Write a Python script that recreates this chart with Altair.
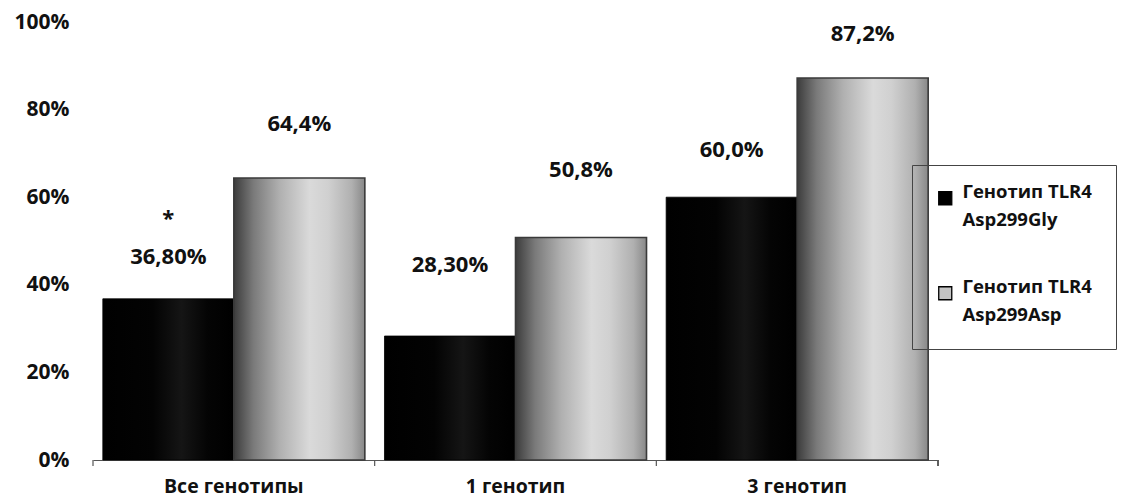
import altair as alt
import pandas as pd

FONT = "Open Sans"
INK = "#111111"

categories = ["Все генотипы", "1 генотип", "3 генотип"]
series = ["\u00a0Генотип TLR4|Asp299Gly", "Генотип TLR4|Asp299Asp"]
gly_values = [36.8, 28.3, 60.0]
asp_values = [64.4, 50.8, 87.2]
gly_labels = ["36,80%", "28,30%", "60,0%"]
asp_labels = ["64,4%", "50,8%", "87,2%"]
gly_label_y = [46.3, 44.5, 70.8]
asp_label_y = [76.7, 66.2, 97.3]
star_label = "*"
star_y = 55.0
y_ticks = [0, 20, 40, 60, 80, 100]

rows = []
for i, c in enumerate(categories):
    rows.append({"category": c, "series": series[0], "value": gly_values[i],
                 "label": gly_labels[i], "label_y": gly_label_y[i], "zero": 0})
    rows.append({"category": c, "series": series[1], "value": asp_values[i],
                 "label": asp_labels[i], "label_y": asp_label_y[i], "zero": 0})
df = pd.DataFrame(rows)
star_df = pd.DataFrame([{"category": categories[0], "series": series[0],
                         "label": star_label, "label_y": star_y}])
cat_df = pd.DataFrame({"category": categories})

W, H = 845, 438

black_grad = {
    "gradient": "linear", "x1": 0, "x2": 1, "y1": 0, "y2": 0,
    "stops": [
        {"offset": 0, "color": "#000000"},
        {"offset": 0.38, "color": "#030303"},
        {"offset": 0.6, "color": "#151515"},
        {"offset": 0.8, "color": "#040404"},
        {"offset": 1, "color": "#000000"},
    ],
}
gray_grad = {
    "gradient": "linear", "x1": 0, "x2": 1, "y1": 0, "y2": 0,
    "stops": [
        {"offset": 0, "color": "#3c3c3c"},
        {"offset": 0.15, "color": "#7a7a7a"},
        {"offset": 0.35, "color": "#b0b0b0"},
        {"offset": 0.58, "color": "#dadada"},
        {"offset": 0.72, "color": "#d0d0d0"},
        {"offset": 0.9, "color": "#b0b0b0"},
        {"offset": 1, "color": "#888888"},
    ],
}

x_axis = alt.Axis(title=None, labelAngle=0, ticks=False, domainColor="#555555",
                  domainWidth=1.2, labelPadding=17, labelFont=FONT,
                  labelFontSize=19.5, labelFontWeight="bold", labelColor=INK)
x_enc = alt.X("category:N", sort=categories,
              scale=alt.Scale(domain=categories, paddingInner=0, paddingOuter=0),
              axis=x_axis)
xo_enc = alt.XOffset("series:N", sort=series,
                     scale=alt.Scale(domain=series, paddingInner=0, paddingOuter=0.075))
y_scale = alt.Scale(domain=[0, 100])
y_axis = alt.Axis(title=None, values=y_ticks, labelExpr="datum.value + '%'",
                  domain=False, ticks=False, grid=False, labelPadding=24,
                  labelFont=FONT, labelFontSize=21, labelFontWeight="bold",
                  labelColor=INK)

base = alt.Chart(df)

bars_gly = base.transform_filter(alt.datum.series == series[0]).mark_bar(
    color=black_grad, stroke="#000000", strokeWidth=0.8
).encode(x=x_enc, xOffset=xo_enc, y=alt.Y("value:Q", scale=y_scale, axis=y_axis))

bars_asp = base.transform_filter(alt.datum.series == series[1]).mark_bar(
    color=gray_grad, stroke="#3a3a3a", strokeWidth=1.6
).encode(x=x_enc, xOffset=xo_enc, y=alt.Y("value:Q", scale=y_scale, axis=y_axis))

legend_layer = base.mark_bar().encode(
    x=x_enc, xOffset=xo_enc,
    y=alt.Y("zero:Q", scale=y_scale, axis=y_axis),
    color=alt.Color("series:N", sort=series,
                    scale=alt.Scale(domain=series, range=["#000000", "#c4c4c4"]),
                    legend=alt.Legend(
                        title=None, orient="none", legendX=819, legendY=143,
                        padding=24, strokeColor="#444444",
                        labelExpr="split(datum.label, '|')",
                        labelFont=FONT, labelFontSize=18.5, labelFontWeight="bold",
                        labelColor=INK, labelLimit=300, labelOffset=8,
                        labelBaseline="alphabetic",
                        symbolType="square", symbolSize=170,
                        symbolStrokeColor="#000000", symbolStrokeWidth=1.3,
                        rowPadding=48)),
)

labels = base.mark_text(font=FONT, fontSize=22, fontWeight="bold", color=INK,
                        baseline="middle").encode(
    x=x_enc, xOffset=xo_enc,
    y=alt.Y("label_y:Q", scale=y_scale, axis=y_axis),
    text="label:N",
)

star = alt.Chart(star_df).mark_text(font=FONT, fontSize=22, fontWeight="bold",
                                     color=INK, baseline="middle").encode(
    x=x_enc, xOffset=xo_enc,
    y=alt.Y("label_y:Q", scale=y_scale, axis=y_axis),
    text="label:N",
)

ticks = alt.Chart(cat_df).mark_rule(color="#555555", strokeWidth=1.2).encode(
    x=alt.X("category:N", sort=categories, bandPosition=0,
            scale=alt.Scale(domain=categories, paddingInner=0, paddingOuter=0),
            axis=x_axis),
    y=alt.value(H), y2=alt.value(H + 6),
)
end_tick = alt.Chart(cat_df).mark_rule(color="#555555", strokeWidth=1.2).encode(
    x=alt.value(W), y=alt.value(H), y2=alt.value(H + 6),
)

chart = alt.layer(bars_gly, bars_asp, legend_layer, labels, star, ticks, end_tick).properties(
    width=W, height=H,
    autosize=alt.AutoSizeParams(type="none"),
    padding={"left": 93, "top": 22, "right": 190, "bottom": 42},
).configure(
    style={"guide-label": {"lineHeight": 28}},
).configure_view(stroke=None)

chart.save("out.html", embed_options={"renderer": "svg", "actions": False})
